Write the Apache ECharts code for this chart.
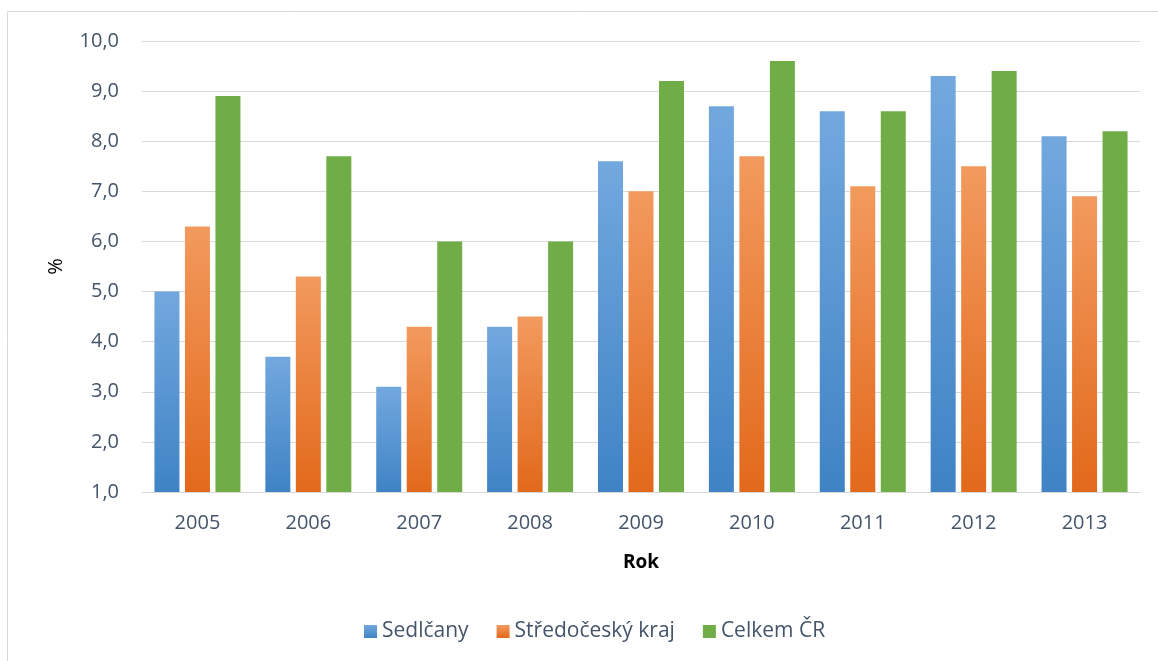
<!DOCTYPE html>
<html><head><meta charset="utf-8">
<script src="https://cdn.jsdelivr.net/npm/echarts@6/dist/echarts.min.js"></script>
<style>html,body{margin:0;padding:0;background:#fff}#c{width:1158px;height:661px}</style>
</head><body><div id="c"></div>
<script>
const categories = ['2005','2006','2007','2008','2009','2010','2011','2012','2013'];
const sedlcany = [5.0, 3.7, 3.1, 4.3, 7.6, 8.7, 8.6, 9.3, 8.1];
const stredocesky = [6.3, 5.3, 4.3, 4.5, 7.0, 7.7, 7.1, 7.5, 6.9];
const celkemCR = [8.9, 7.7, 6.0, 6.0, 9.2, 9.6, 8.6, 9.4, 8.2];
const seriesNames = ['Sedlčany', 'Středočeský kraj', 'Celkem ČR'];

const font = 'Open Sans';
const txt = '#44546A';
function grad(top, bottom){
  return new echarts.graphic.LinearGradient(0,0,0,1,[{offset:0,color:top},{offset:1,color:bottom}]);
}
const chart = echarts.init(document.getElementById('c'));
chart.setOption({
  animation:false,
  backgroundColor:'#fff',
  graphic:[{type:'rect',shape:{x:7.5,y:11.5,width:1160,height:660},style:{fill:'none',stroke:'#D9D9D9',lineWidth:1}}],
  grid:{left:142,right:18,top:41,bottom:169},
  legend:{
    top:616,left:359,itemWidth:13,itemHeight:13,itemGap:28,icon:'rect',
    textStyle:{fontFamily:font,fontSize:21,color:txt},
    data:seriesNames
  },
  xAxis:{
    type:'category',data:categories,
    name:'Rok',nameLocation:'middle',nameGap:61,
    nameTextStyle:{fontFamily:font,fontSize:19,fontWeight:'bold',color:'#000'},
    axisLine:{lineStyle:{color:'#D9D9D9',width:1}},
    axisTick:{show:false},
    axisLabel:{fontFamily:font,fontSize:20,color:txt,margin:21}
  },
  yAxis:{
    type:'value',min:1,max:10,interval:1,
    name:'%',nameLocation:'middle',nameGap:76,nameRotate:90,
    nameTextStyle:{fontFamily:font,fontSize:20,color:'#000'},
    axisLine:{show:false},axisTick:{show:false},
    axisLabel:{fontFamily:font,fontSize:20,color:txt,margin:23,formatter:v=>v.toFixed(1).replace('.',',')},
    splitLine:{lineStyle:{color:'#D9D9D9',width:1}}
  },
  series:[
    {name:seriesNames[0],type:'bar',data:sedlcany,barWidth:25,barGap:'22%',
     itemStyle:{color:grad('#72A8DE','#3F83C5')}},
    {name:seriesNames[1],type:'bar',data:stredocesky,barWidth:25,barGap:'22%',
     itemStyle:{color:grad('#F29A5E','#E2691B')}},
    {name:seriesNames[2],type:'bar',data:celkemCR,barWidth:25,barGap:'22%',
     itemStyle:{color:'#70AD47'}}
  ]
});
</script></body></html>
